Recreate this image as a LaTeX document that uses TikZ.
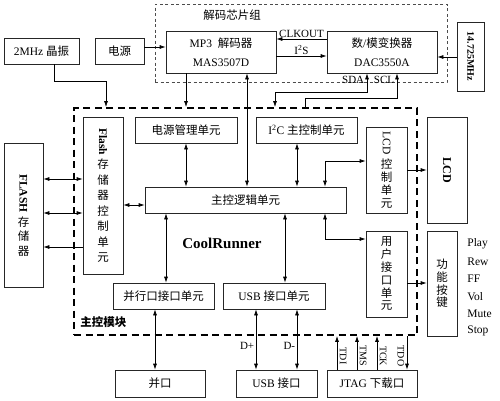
\documentclass[tikz,border=0pt]{standalone}
\usepackage{fontspec}
\setmainfont{Liberation Serif}
\newfontfamily\cjk{Noto Sans CJK SC}
\usepackage{graphicx}
\usetikzlibrary{arrows.meta}
\newcommand{\zh}[1]{{\cjk #1}}
\newcommand{\vlat}[1]{\rotatebox{-90}{#1}}
\newcommand{\linew}{.7pt}

\tikzset{
  blk/.style={draw=black!85, line width=\linew, inner sep=0pt, align=center},
  grp/.style={draw=black!70, line width=\linew, dash pattern=on 3pt off 2.5pt},
  ctrlbox/.style={draw=black, line width=1.8pt, dash pattern=on 7pt off 4.5pt},
  lbl/.style={font=\fontsize{11}{13}\selectfont, inner sep=1.5pt},
}

\begin{document}
\begin{tikzpicture}[x=1pt, y=-1pt, line width=\linew,
    >={Latex[length=6pt,width=4pt]}, font=\fontsize{11.5}{14}\selectfont]
  \useasboundingbox (0,0) rectangle (500,400);

  % decoder group
  \node (dec) at (301,43) [grp, minimum width=292pt, minimum height=78pt] {};
  \node (declab) at (232,15) {\zh{解码芯片组}};
  \node (mp3) at (221,52) [blk, minimum width=110pt, minimum height=42pt] {MP3\ \ \zh{解码器}\\[5pt]MAS3507D};
  \node (dac) at (382,52) [blk, minimum width=110pt, minimum height=42pt] {\zh{数}/\zh{模变换器}\\[5pt]DAC3550A};
  \node (xtal) at (470.5,56.5) [blk, minimum width=27pt, minimum height=69pt, font=\fontsize{10}{12}\selectfont] {\vlat{\textbf{14.725MHz}}};
  \node (osc) at (41.5,51) [blk, minimum width=75pt, minimum height=26pt] {2MHz \zh{晶振}};
  \node (pwr) at (119.5,51) [blk, minimum width=49pt, minimum height=26pt] {\zh{电源}};

  % main control module
  \node (ctrl) at (245.5,221.5) [ctrlbox, minimum width=343pt, minimum height=227pt] {};
  \node (ctrllab) at (80,322) [anchor=west, inner sep=0pt] {\bfseries\zh{主控模块}};
  \node (fctl) at (103,195.5) [blk, minimum width=40pt, minimum height=157pt, font=\fontsize{11.5}{15.5}\selectfont]
    {\vlat{\textbf{Flash}}\\[3pt]\zh{存}\\\zh{储}\\\zh{器}\\\zh{控}\\\zh{制}\\\zh{单}\\\zh{元}};
  \node (pm) at (186,130) [blk, minimum width=102pt, minimum height=26pt] {\zh{电源管理单元}};
  \node (iic) at (306.5,130) [blk, minimum width=101pt, minimum height=26pt] {I\textsuperscript{2}C \zh{主控制单元}};
  \node (lcdc) at (386.5,170) [blk, minimum width=41pt, minimum height=86pt, font=\fontsize{11.5}{13}\selectfont]
    {\vlat{LCD}\\[3pt]\zh{控}\\\zh{制}\\\zh{单}\\\zh{元}};
  \node (logic) at (245.5,200) [blk, minimum width=201pt, minimum height=26pt] {\zh{主控逻辑单元}};
  \node (cr) at (222,243) [font=\fontsize{15}{18}\selectfont\bfseries] {CoolRunner};
  \node (usr) at (386.5,274) [blk, minimum width=41pt, minimum height=86pt, font=\fontsize{11.5}{12.8}\selectfont]
    {\zh{用}\\\zh{户}\\\zh{接}\\\zh{口}\\\zh{单}\\\zh{元}};
  \node (par) at (163.5,296) [blk, minimum width=101pt, minimum height=26pt] {\zh{并行口接口单元}};
  \node (usbu) at (274,296) [blk, minimum width=102pt, minimum height=26pt] {USB \zh{接口单元}};

  % outside parts
  \node (flash) at (23.5,215) [blk, minimum width=39pt, minimum height=144pt, font=\fontsize{11.5}{14.5}\selectfont]
    {\vlat{\textbf{FLASH}}\\[3pt]\zh{存}\\\zh{储}\\\zh{器}};
  \node (lcd) at (447,170) [blk, minimum width=40pt, minimum height=106pt, font=\fontsize{12}{14}\selectfont] {\vlat{\textbf{LCD}}};
  \node (keys) at (442,283.5) [blk, minimum width=30pt, minimum height=105pt, font=\fontsize{11.5}{12.8}\selectfont]
    {\zh{功}\\\zh{能}\\\zh{按}\\\zh{键}};
  \foreach \k [count=\i] in {Play,Rew,FF,Vol,Mute,Stop}
    \node (key\i) at (467,{226.6+17.4*\i}) [anchor=west, inner sep=0pt] {\k};
  \node (lpt) at (160,383.5) [blk, minimum width=90pt, minimum height=27pt] {\zh{并口}};
  \node (usb) at (276.5,383.5) [blk, minimum width=81pt, minimum height=27pt] {USB \zh{接口}};
  \node (jtag) at (372,383.5) [blk, minimum width=90pt, minimum height=27pt] {JTAG \zh{下载口}};

  % decoder links
  \draw[->] ([yshift=4pt]pwr.east) -- ([yshift=4pt]pwr.east -| mp3.west);
  \draw[->] ([yshift=13pt]dac.west) -- ([yshift=13pt]dac.west -| mp3.east) node[midway, above, lbl] {CLKOUT};
  \draw[->] ([yshift=-4pt]mp3.east) -- ([yshift=-4pt]mp3.east -| dac.west) node[midway, above, lbl] {I\textsuperscript{2}S};
  \draw[->] ([yshift=-5pt]dac.east -| xtal.west) -- ([yshift=-5pt]dac.east);
  \draw[<->] ([xshift=-15pt]dac.south) node[anchor=north east, lbl, inner sep=2.5pt] {SDA}
    -- ++(0,19) -| ([xshift=29.5pt]ctrl.north);
  \draw[->] ([xshift=59.5pt]ctrl.north) -- ++(0,-9) -| ([xshift=15pt]dac.south)
    node[anchor=north east, lbl, inner sep=2.5pt] {SCL};
  \draw[->] ([xshift=12.5pt]osc.south) -- ++(0,17) -| ([xshift=-139.5pt]ctrl.north);
  \draw[->] (pm.north |- mp3.south) -- (pm.north |- ctrl.north);
  \draw[<->] ([xshift=1.5pt]logic.north |- mp3.south) -- ([xshift=1.5pt]logic.north);

  % inside the module
  \draw[<->] (pm.south) -- (pm.south |- logic.north);
  \draw[<->] ([xshift=-9.5pt]iic.south) -- ([xshift=-9.5pt]iic.south |- logic.north);
  \draw[<->] ([xshift=79.5pt]logic.north) |- ([yshift=9pt]lcdc.west);
  \draw[<->] ([xshift=79.5pt]logic.south) |- ([yshift=35pt]usr.west);
  \draw[<->] ([yshift=-5pt]logic.west) -- ([yshift=-5pt]logic.west -| fctl.east);
  \draw[<->] ([xshift=2.5pt]par.north |- logic.south) -- ([xshift=2.5pt]par.north);
  \draw[<->] ([xshift=11pt]usbu.north |- logic.south) -- ([xshift=11pt]usbu.north);

  % to the outside
  \foreach \dy in {16.5,-17.5}
    \draw[<->] ([yshift=\dy pt]fctl.west) -- ([yshift=\dy pt]fctl.west -| flash.east);
  \draw[->] ([yshift=-51.5pt]fctl.west) -- ([yshift=-51.5pt]fctl.west -| flash.east);
  \draw[->] (lcdc.east) -- (lcd.west);
  \draw[->] ([yshift=-9pt]usr.east) -- ([yshift=-9pt]usr.east -| keys.west);
  \draw[<->] ([xshift=-5pt]lpt.north |- par.south) -- ([xshift=-5pt]lpt.north);
  \draw[<->] ([xshift=-20.5pt]usb.north) -- ([xshift=-20.5pt]usb.north |- usbu.south) node[pos=.4, left, lbl] {D+};
  \draw[<->] ([xshift=20.5pt]usb.north) -- ([xshift=20.5pt]usb.north |- usbu.south) node[pos=.4, left, lbl] {D-};
  \foreach \dx/\jt in {-35/TDI,-15/TMS,5/TCK}
    \draw[->] ([xshift=\dx pt]jtag.north) -- ([xshift=\dx pt]jtag.north |- ctrl.south)
      node[pos=.4, anchor=south, rotate=-90, lbl, inner sep=2.5pt, font=\fontsize{10}{12}\selectfont] {\jt};
  \draw[<-] ([xshift=35pt]jtag.north) -- ([xshift=35pt]jtag.north |- ctrl.south)
    node[pos=.4, anchor=north, rotate=-90, lbl, inner sep=2.5pt, font=\fontsize{10}{12}\selectfont] {TDO};
\end{tikzpicture}
\end{document}
